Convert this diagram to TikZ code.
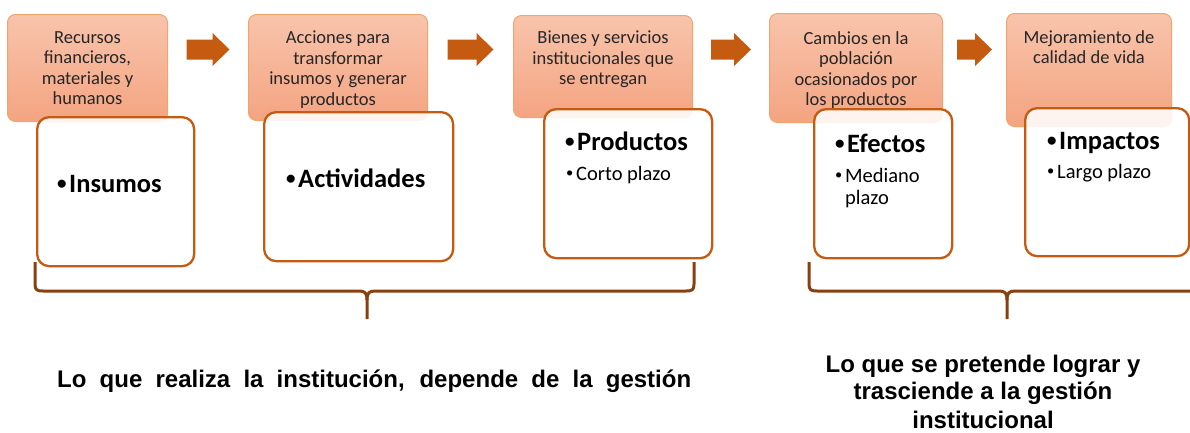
\documentclass[tikz,border=0pt]{standalone}
\usepackage{fontspec}
\setmainfont{Carlito}
\newfontfamily\captionfont{Liberation Sans}
\usetikzlibrary{positioning,calc}

\definecolor{toptop}{HTML}{F8C4AC}
\definecolor{topbot}{HTML}{F4A481}
\definecolor{topline}{HTML}{F2A46E}
\definecolor{keyline}{HTML}{C55A11}
\definecolor{arrowfill}{HTML}{C55A11}
\definecolor{bracecol}{HTML}{8A3F10}

\newcommand{\keyhead}[1]{\makebox[12pt][l]{\raisebox{2.3pt}{\fontsize{19}{19}\selectfont\textbullet}}#1}
\newcommand{\keysub}[1]{\makebox[10pt][l]{\raisebox{2.7pt}{\fontsize{14.5}{14.5}\selectfont\textbullet}}#1}

\begin{document}
\begin{tikzpicture}[
    x=1pt, y=-1pt,
    topbox/.style={draw=topline, line width=1pt, rounded corners=8pt, top color=toptop, bottom color=topbot, anchor=north west, inner sep=0pt},
    keybox/.style={draw=keyline, line width=2.3pt, rounded corners=12pt, fill=white, fill opacity=0.88, anchor=north west, inner sep=0pt},
    toptext/.style={align=center, inner sep=0pt, text=black!85, font=\fontsize{18.5}{20.5}\selectfont},
    headitem/.style={anchor=base west, inner sep=0pt, font=\fontsize{26.5}{30}\selectfont\bfseries},
    subitem/.style={anchor=base west, inner sep=0pt, align=left, font=\fontsize{20.5}{22.5}\selectfont},
    blockarrow/.style={fill=arrowfill},
    bracket/.style={draw=bracecol, line width=3pt},
    caption/.style={inner sep=0pt, font=\captionfont\bfseries\fontsize{24}{27}\selectfont}
  ]
    \useasboundingbox (0,0) rectangle (1190,432);
    \clip (0,0) rectangle (1190,432);

    % Description boxes (top row)
    \node[topbox, minimum width=160pt, minimum height=107pt] (di) at (7,14) {};
    \node[topbox, minimum width=179pt, minimum height=106pt] (da) at (248,14) {};
    \node[topbox, minimum width=179pt, minimum height=102pt] (dp) at (513,15) {};
    \node[topbox, minimum width=173pt, minimum height=109pt] (de) at (769,13) {};
    \node[topbox, minimum width=165pt, minimum height=113pt] (dm) at (1006,13) {};

    % Key boxes (drawn over the description boxes)
    \node[keybox, minimum width=157pt, minimum height=149pt] (i) at (36,116) {};
    \node[keybox, minimum width=189pt, minimum height=149pt] (a) at (263,111) {};
    \node[keybox, minimum width=168pt, minimum height=149pt] (p) at (543,108) {};
    \node[keybox, minimum width=138pt, minimum height=149pt] (e) at (813,108) {};
    \node[keybox, minimum width=164pt, minimum height=148pt] (m) at (1024,107) {};

    % Texts of the description boxes
    \node[toptext, below=17pt of di.north] {Recursos\\financieros,\\materiales y\\humanos};
    \node[toptext, below=17pt of da.north] {Acciones para\\transformar\\insumos y generar\\productos};
    \node[toptext, below=16pt of dp.north] {Bienes y servicios\\institucionales que\\se entregan};
    \node[toptext, below=18pt of de.north] {Cambios en la\\población\\ocasionados por\\los productos};
    \node[toptext, below=17pt of dm.north] {Mejoramiento de\\calidad de vida};

    % Texts of the key boxes
    \node[headitem] at ($(i.north west)+(21,76)$) {\keyhead{Insumos}};
    \node[headitem] at ($(a.north west)+(23,76)$) {\keyhead{Actividades}};
    \node[headitem] at ($(p.north west)+(22,42)$) {\keyhead{Productos}};
    \node[subitem]  at ($(p.north west)+(23,72)$) {\keysub{Corto plazo}};
    \node[headitem] at ($(e.north west)+(22,44)$) {\keyhead{Efectos}};
    % base of a two-line node is its last line
    \node[subitem]  at ($(e.north west)+(22,96.5)$) {\keysub{Mediano}\\\hspace*{10pt}plazo};
    \node[headitem] at ($(m.north west)+(23,42)$) {\keyhead{Impactos}};
    \node[subitem]  at ($(m.north west)+(23,71)$) {\keysub{Largo plazo}};

    % Block arrows between the description boxes
    \coordinate (arrowrow) at (0,49.5);
    \foreach \a/\b/\len in {di/da/43, da/dp/46, dp/de/40, de/dm/35} {
      \coordinate (m0) at ($(\a.east)!0.5!(\b.west)$);
      \coordinate (mid) at (m0 |- arrowrow);
      \fill[blockarrow] ($(mid)+(-\len/2,-10)$) -- ++(\len-17,0) -- ++(0,-6.5)
        -- ($(mid)+(\len/2,0)$) -- ($(mid)+(\len/2-17,16.5)$) -- ++(0,-6.5)
        -- ($(mid)+(-\len/2,10)$) -- cycle;
    }

    % Braces
    \draw[bracket] (35,262) -- (35,284) .. controls (35,290) and (37,291) .. (43,291)
      -- (359,291) .. controls (365,291) and (367,293) .. (367,300) -- (367,319);
    \draw[bracket] (367,300) .. controls (367,293) and (369,291) .. (375,291)
      -- (686,291) .. controls (692,291) and (694,290) .. (694,284) -- (694,262);
    \draw[bracket] (809,262) -- (809,284) .. controls (809,290) and (811,291) .. (817,291)
      -- (999,291) .. controls (1005,291) and (1007,293) .. (1007,300) -- (1007,319);
    \draw[bracket] (1007,300) .. controls (1007,293) and (1009,291) .. (1015,291) -- (1200,291);

    % Captions
    \node[caption, anchor=base west] (lbl1) at (57,387)
      {\makebox[634pt][s]{Lo que realiza la institución, depende de la gestión}};
    \node[caption, align=center, anchor=north] (lbl2) at (983,355)
      {Lo que se pretende lograr y\\trasciende a la gestión\\[2pt]institucional};
  \end{tikzpicture}
\end{document}
